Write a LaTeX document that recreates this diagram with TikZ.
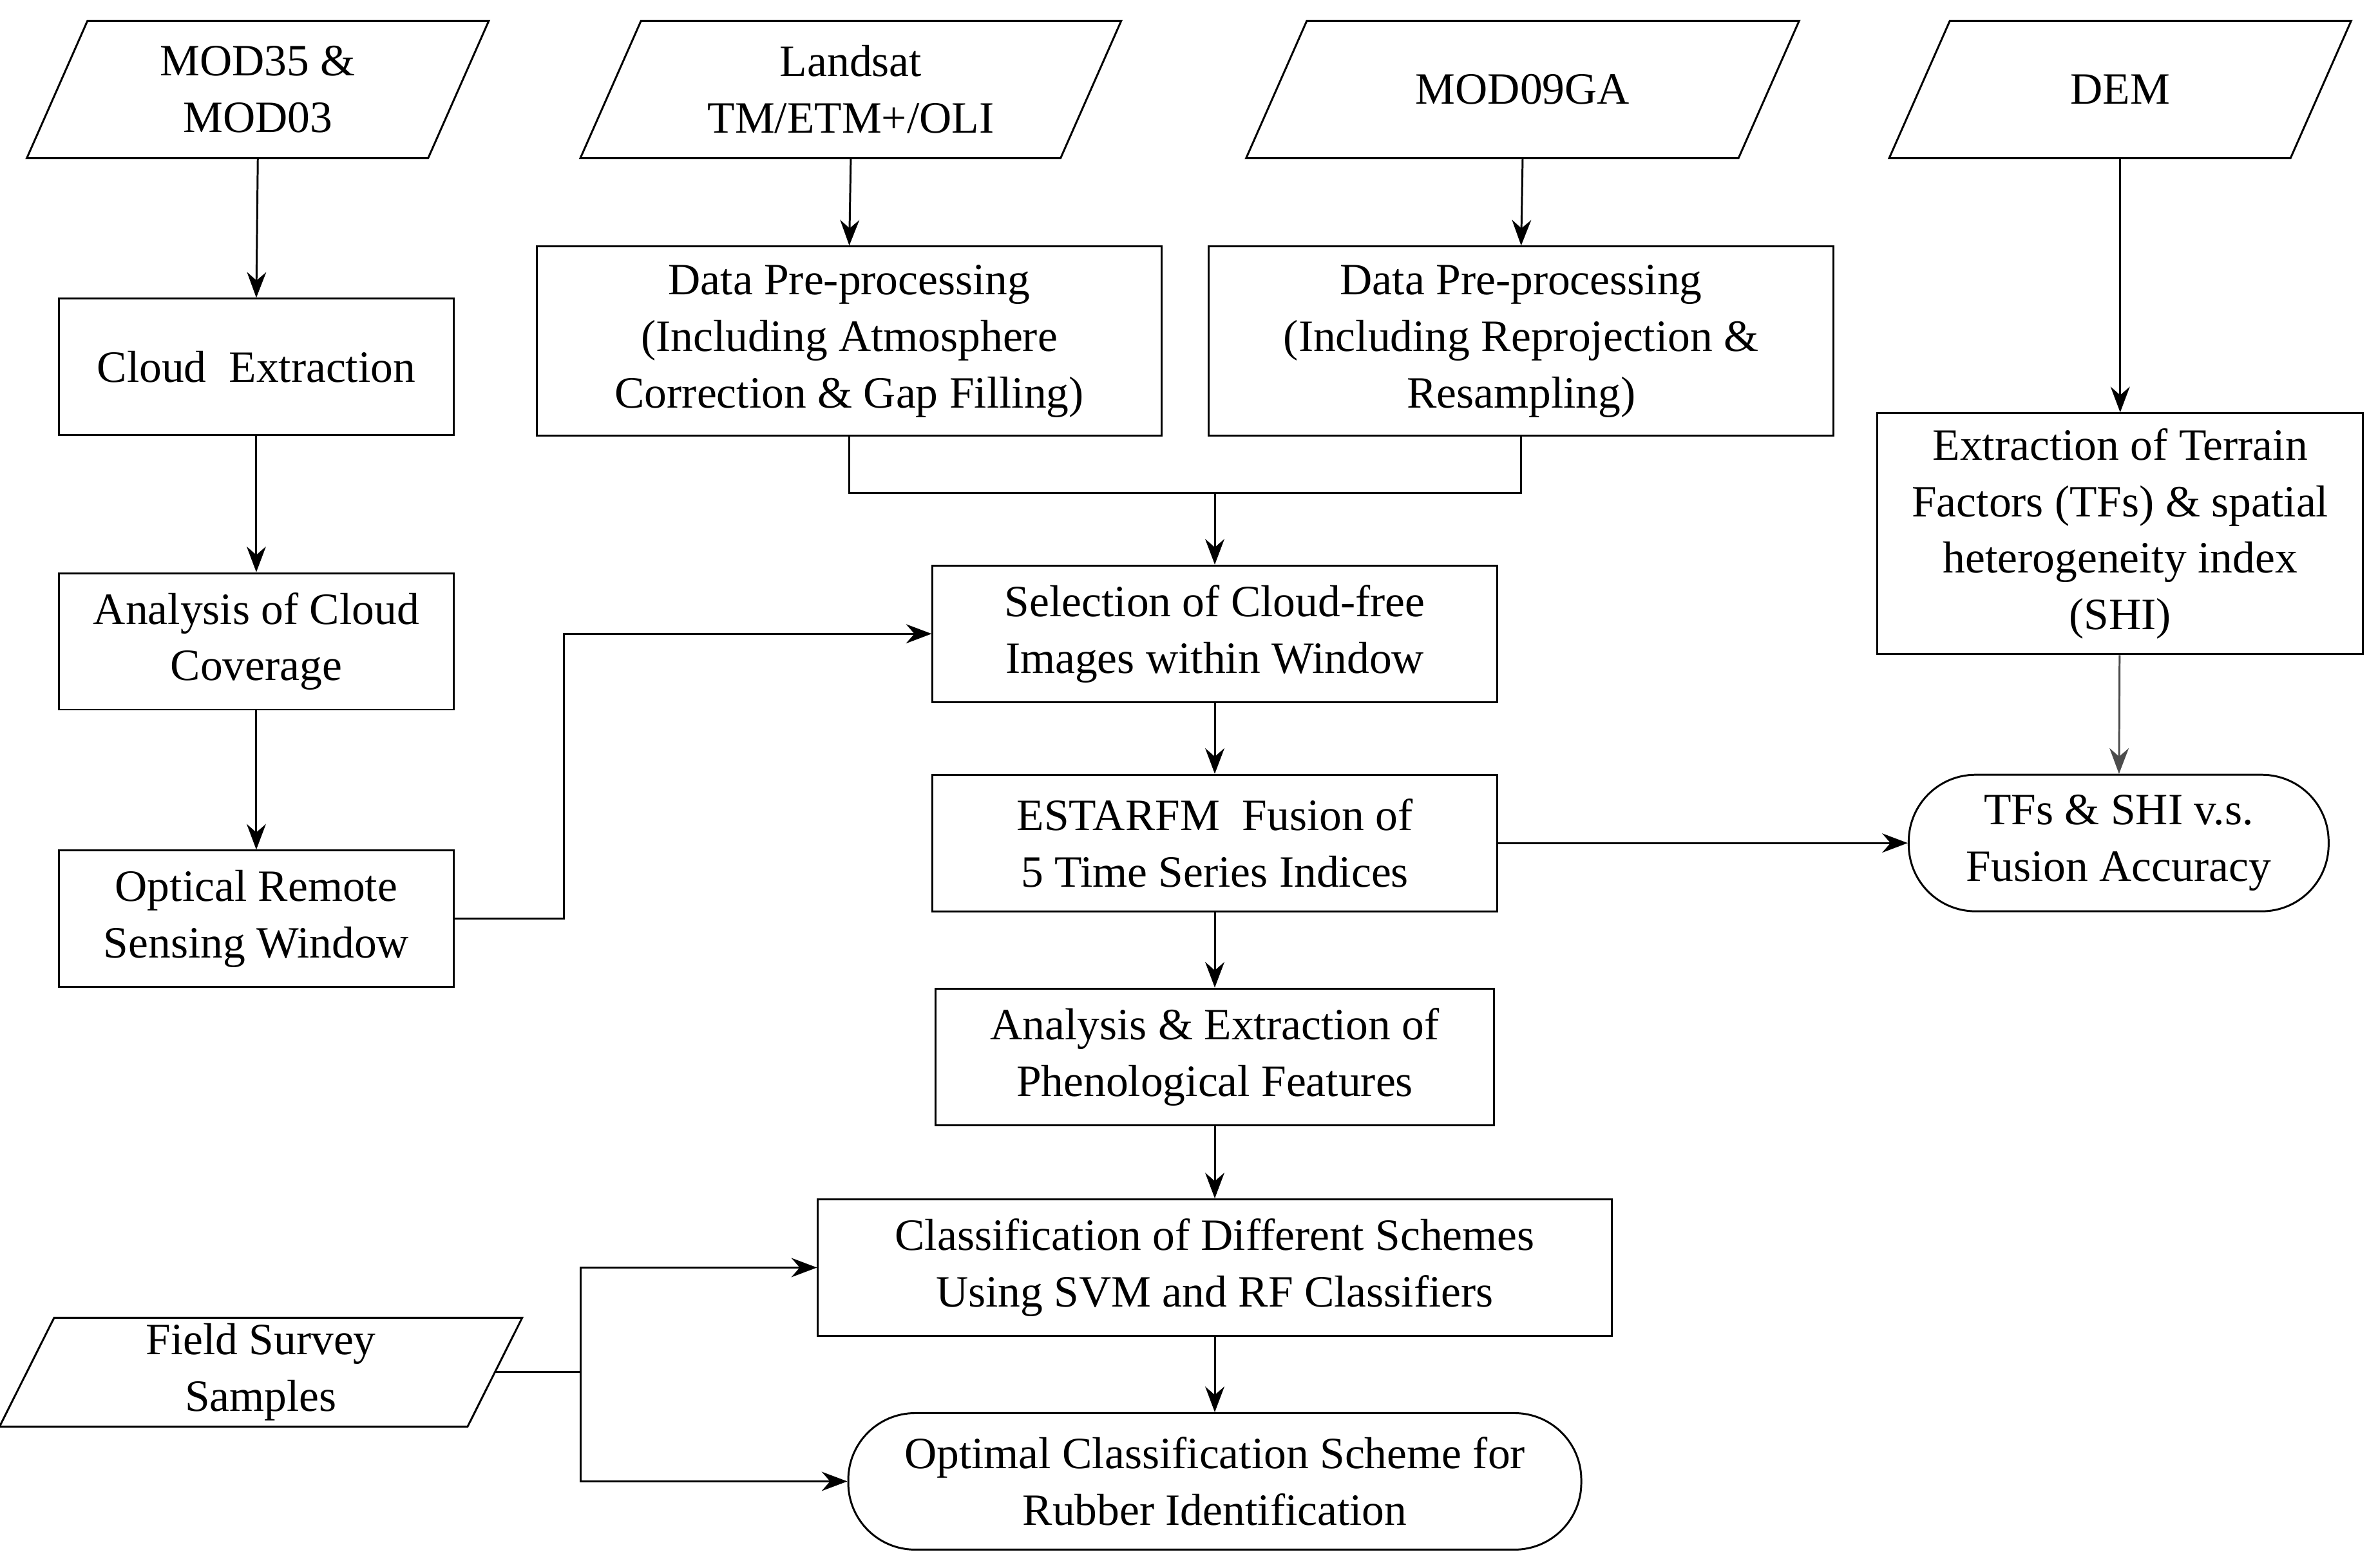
\documentclass[tikz,border=0pt]{standalone}
\usepackage{fontspec}
\setmainfont{Liberation Serif}
\usetikzlibrary{arrows.meta}
\begin{document}
\begin{tikzpicture}[x=0.025cm,y=-0.025cm,
  every node/.style={font=\fontsize{21}{26.5}\selectfont, align=center, inner sep=0pt},
  box/.style={draw, line width=0.9pt, minimum height=2.25cm},
  rbox/.style={box, rounded corners=1.1cm},
  para/.style={minimum height=2.25cm},
  line/.style={line width=0.9pt},
  arr/.style={line, -{Stealth[length=12pt,width=9pt]}}]
\useasboundingbox (0,0) rectangle (1568,1034);
% parallelogram data nodes
\node[para, minimum width=6.6cm] (m35) at (170,59) {MOD35 \&\\MOD03};
\node[para, minimum width=7.9cm] (ls) at (561,59) {Landsat\\TM/ETM+/OLI};
\node[para, minimum width=8.1cm] (m09) at (1004,59) {MOD09GA};
\node[para, minimum width=6.6cm] (dem) at (1398,59) {DEM};
\node[minimum width=7.7cm, minimum height=1.78cm] (fs) at (172,905) {Field Survey\\Samples};
\foreach \n/\s in {m35/20,ls/20,m09/20,dem/20,fs/18}{
  \draw[line] ([xshift=-\s*0.025cm]\n.south west) -- ([xshift=\s*0.025cm]\n.north west)
   -- ([xshift=\s*0.025cm]\n.north east) -- ([xshift=-\s*0.025cm]\n.south east) -- cycle;}
% boxes
\node[box, minimum width=6.5cm] (ce) at (169,242) {Cloud\ \ Extraction};
\node[box, minimum width=10.3cm, minimum height=3.12cm] (dp1) at (560,225) {Data Pre-processing\\(Including Atmosphere\\Correction \& Gap Filling)};
\node[box, minimum width=10.3cm, minimum height=3.12cm] (dp2) at (1003,225) {Data Pre-processing\\(Including Reprojection \&\\Resampling)};
\node[box, minimum width=8cm, minimum height=3.97cm] (ext) at (1398,352) {Extraction of Terrain\\Factors (TFs) \& spatial\\heterogeneity index\\(SHI)};
\node[box, minimum width=6.5cm] (acc) at (169,423) {Analysis of Cloud\\Coverage};
\node[box, minimum width=9.3cm] (sel) at (801,418) {Selection of Cloud-free\\Images within Window};
\node[box, minimum width=9.3cm] (est) at (801,556) {ESTARFM\ \ Fusion of\\5 Time Series Indices};
\node[rbox, minimum width=6.92cm] (tfs) at (1397,556) {TFs \& SHI v.s.\\Fusion Accuracy};
\node[box, minimum width=6.5cm] (orw) at (169,606) {Optical Remote\\Sensing Window};
\node[box, minimum width=9.2cm] (aef) at (801,697) {Analysis \& Extraction of\\Phenological Features};
\node[box, minimum width=13.08cm] (cls) at (801,836) {Classification of Different Schemes\\Using SVM and RF Classifiers};
\node[rbox, minimum width=12.08cm] (opt) at (801,977) {Optimal Classification Scheme for\\Rubber Identification};
% connectors
\draw[arr] (m35.south) -- (ce.north);
\draw[arr] (ce) -- (acc);
\draw[arr] (acc) -- (orw);
\draw[arr] (ls.south) -- (dp1.north);
\draw[arr] (m09.south) -- (dp2.north);
\draw[arr] (dem.south) -- (ext.north);
\draw[arr, draw=black!70] (ext) -- (tfs);
\coordinate (j) at (801,325);
\draw[line] (dp1.south) |- (j) -| (dp2.south);
\draw[arr] (j) -- (sel.north);
\coordinate (k) at (372,418);
\draw[arr] (orw.east) -| (k) -- (sel.west);
\draw[arr] (sel) -- (est);
\draw[arr] (est) -- (tfs);
\draw[arr] (est) -- (aef);
\draw[arr] (aef) -- (cls);
\draw[arr] (cls) -- (opt);
\coordinate (f) at (383,905);
\draw[line] (fs.east) -- (f);
\draw[arr] (f) |- (cls.west);
\draw[arr] (f) |- (opt.west);
\end{tikzpicture}
\end{document}
